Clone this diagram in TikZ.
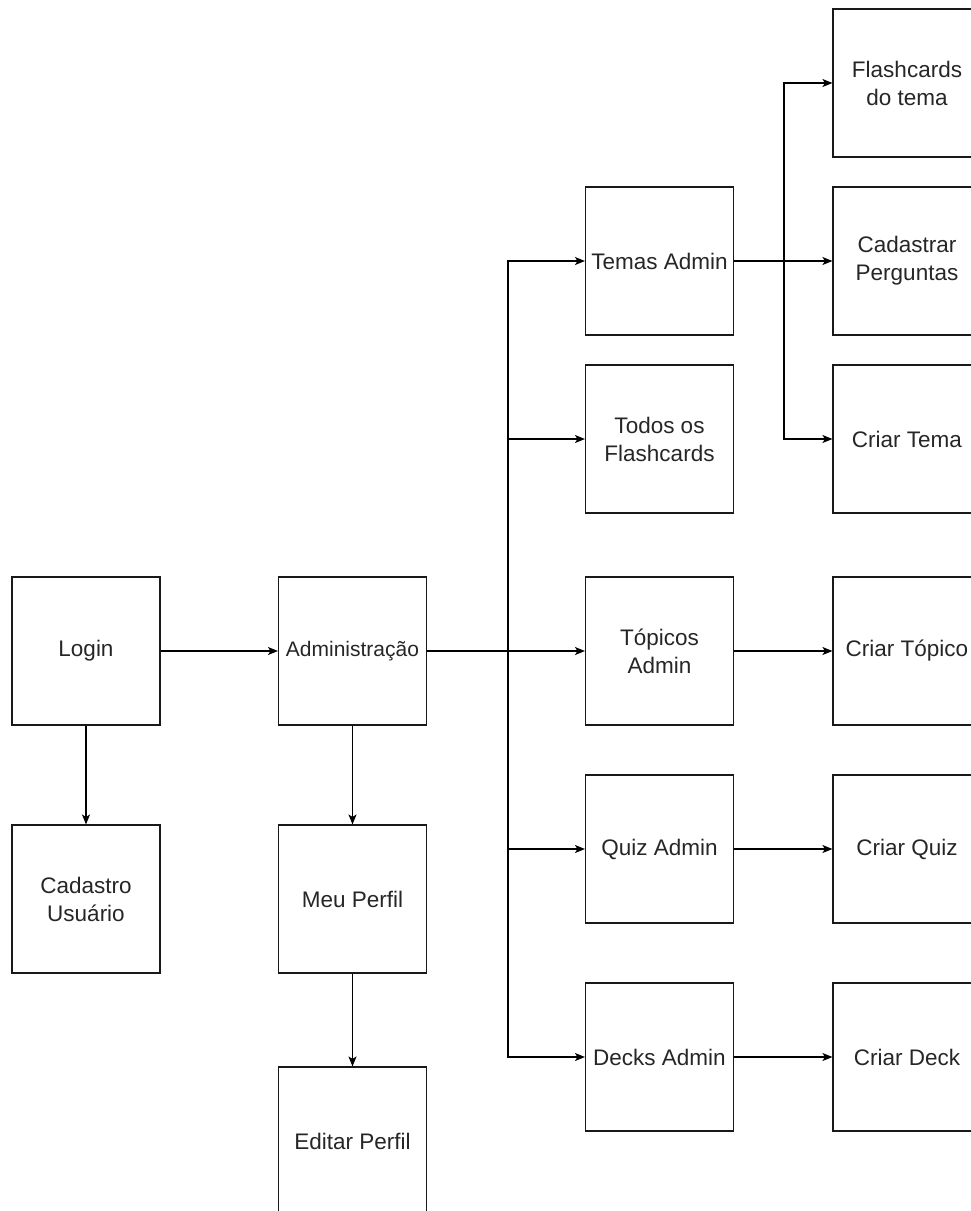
\documentclass[tikz,border=0pt]{standalone}
\usepackage{fontspec}
\setmainfont{Liberation Sans}
\usetikzlibrary{arrows.meta}
\begin{document}
\begin{tikzpicture}[x=1pt,y=-1pt,
  box/.style={draw=black!90, line width=1.1pt, minimum width=148pt, minimum height=148pt,
    inner sep=0pt, align=center, font=\fontsize{22.5}{28}\selectfont, text=black!85},
  arr/.style={draw=black, line width=1.1pt, -{Stealth[length=10pt,width=8pt,inset=2.5pt]}}]
\useasboundingbox (0,0) rectangle (971,1211);
\clip (0,0) rectangle (971,1211);

% left column
\node[box] (login) at (86,651) {Login};
\node[box] (cadastro) at (86,899) {Cadastro\\Usuário};

% administration column
\node[box, font=\fontsize{21}{26}\selectfont] (adm) at (352.5,651) {Administração};
\node[box] (perfil) at (352.5,899) {Meu Perfil};
\node[box] (editar) at (352.5,1141) {Editar Perfil};

% admin pages
\node[box] (temas) at (659.5,261) {Temas Admin};
\node[box] (todos) at (659.5,439) {Todos os\\Flashcards};
\node[box] (topicos) at (659.5,651) {Tópicos\\Admin};
\node[box] (quiz) at (659.5,849) {Quiz Admin};
\node[box] (decks) at (659.5,1057) {Decks Admin};

% actions
\node[box] (fltema) at (907,83) {Flashcards\\do tema};
\node[box] (perguntas) at (907,261) {Cadastrar\\Perguntas};
\node[box] (criartema) at (907,439) {Criar Tema};
\node[box] (criartopico) at (907,651) {Criar Tópico};
\node[box] (criarquiz) at (907,849) {Criar Quiz};
\node[box] (criardeck) at (907,1057) {Criar Deck};

% junction points of the orthogonal connectors
\coordinate (jadm) at (508,651);
\coordinate (jtemas) at (784,261);

% connectors
\draw[arr] (login) -- (adm);
\draw[arr] (login) -- (cadastro);
\draw[arr] (adm) -- (perfil);
\draw[arr] (perfil) -- (editar);

\draw[arr] (adm) -- (topicos);
\draw[arr] (adm.east) -- (jadm) |- (temas.west);
\draw[arr] (adm.east) -- (jadm) |- (todos.west);
\draw[arr] (adm.east) -- (jadm) |- (quiz.west);
\draw[arr] (adm.east) -- (jadm) |- (decks.west);

\draw[arr] (temas) -- (perguntas);
\draw[arr] (temas.east) -- (jtemas) |- (fltema.west);
\draw[arr] (temas.east) -- (jtemas) |- (criartema.west);

\draw[arr] (topicos) -- (criartopico);
\draw[arr] (quiz) -- (criarquiz);
\draw[arr] (decks) -- (criardeck);
\end{tikzpicture}
\end{document}
